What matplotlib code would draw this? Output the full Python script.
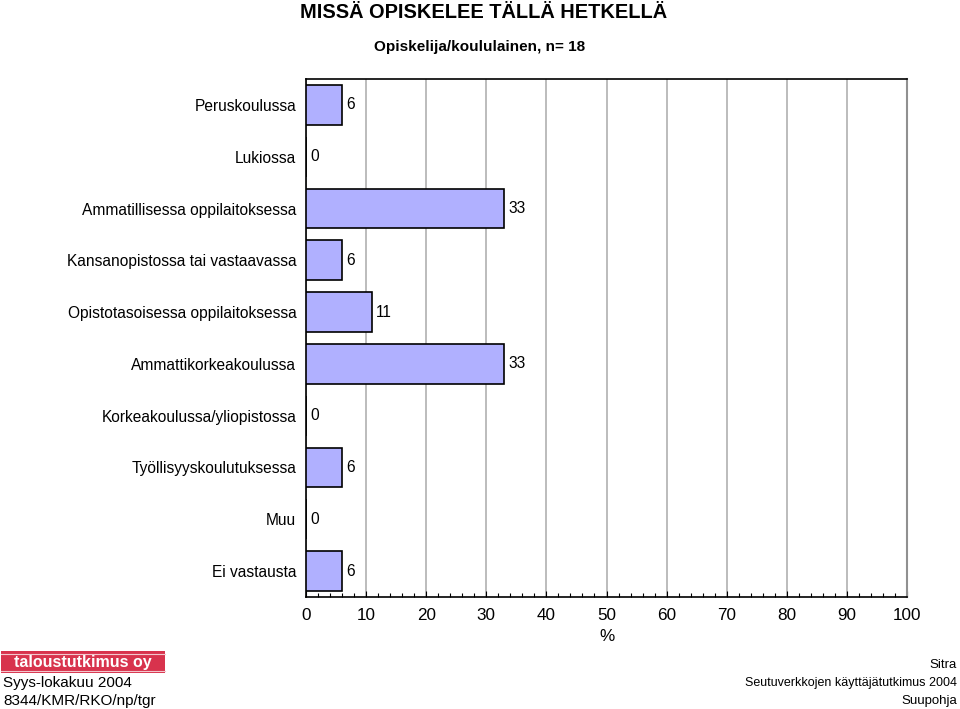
import matplotlib
matplotlib.use("Agg")
import matplotlib.pyplot as plt
from matplotlib.patches import Rectangle
from matplotlib.lines import Line2D
from matplotlib.ticker import MultipleLocator

plt.rcParams['font.family'] = ['Liberation Sans', 'DejaVu Sans']

categories = ["Peruskoulussa", "Lukiossa", "Ammatillisessa oppilaitoksessa",
              "Kansanopistossa tai vastaavassa", "Opistotasoisessa oppilaitoksessa",
              "Ammattikorkeakoulussa", "Korkeakoulussa/yliopistossa",
              "Työllisyyskoulutuksessa", "Muu", "Ei vastausta"]
values = [6, 0, 33, 6, 11, 33, 0, 6, 0, 6]
xticks = [0, 10, 20, 30, 40, 50, 60, 70, 80, 90, 100]

fig = plt.figure(figsize=(9.6, 7.09), dpi=100)
ax = fig.add_axes([306/960, 1-597/709, (907-306)/960, (597-79)/709])

y = list(range(len(categories)))
ax.barh(y, values, height=0.77, color='#B0B0FF', edgecolor='black', linewidth=1.2, zorder=3)
for yi, v in zip(y, values):
    ax.text(v + 0.7, yi, str(v), va='center', ha='left', fontsize=11.2, zorder=4)

ax.set_ylim(len(categories) - 0.5, -0.5)
ax.set_xlim(0, 100)
ax.set_yticks(y)
ax.set_yticklabels(categories, fontsize=11.2)
ax.tick_params(axis='y', length=0, pad=7)
ax.set_xticks(xticks)
ax.set_xticklabels([str(t) for t in xticks], fontsize=12.3)
ax.xaxis.set_minor_locator(MultipleLocator(2))
ax.tick_params(axis='x', which='both', direction='in', length=3, width=0.8, pad=8)
ax.tick_params(axis='x', which='major', length=4)
ax.grid(axis='x', color='#b0b0b0', linewidth=1.2, zorder=0)
ax.set_xlabel('%', fontsize=12.3, labelpad=4)
for s in ['left', 'bottom', 'top']:
    ax.spines[s].set_color('black')
    ax.spines[s].set_linewidth(1.2)
ax.spines['right'].set_color('#909090')
ax.spines['right'].set_linewidth(1.5)

fig.text(484/960, 1-12/709, "MISSÄ OPISKELEE TÄLLÄ HETKELLÄ", ha='center', va='center',
         fontsize=14.4, fontweight='bold')
fig.text(480/960, 1-47/709, "Opiskelija/koululainen, n= 18", ha='center', va='center',
         fontsize=11, fontweight='bold')

# logo
fig.patches.append(Rectangle((1/960, 1-673/709), 164/960, 22/709, transform=fig.transFigure,
                             facecolor='#d8334d', edgecolor='none'))
for yy in (653.5, 670.5):
    fig.lines.append(Line2D([1/960, 165/960], [1-yy/709, 1-yy/709], transform=fig.transFigure,
                            color='#f3c6cd', linewidth=0.8))
fig.text(83/960, 1-662/709, "taloustutkimus oy", ha='center', va='center', color='white',
         fontsize=11.5, fontweight='bold')

fig.text(3/960, 1-683/709, "Syys-lokakuu 2004", ha='left', va='center', fontsize=11)
fig.text(3/960, 1-701/709, "8344/KMR/RKO/np/tgr", ha='left', va='center', fontsize=11)
fig.text(957/960, 1-665/709, "Sitra", ha='right', va='center', fontsize=9.5)
fig.text(957/960, 1-683/709, "Seutuverkkojen käyttäjätutkimus 2004", ha='right', va='center', fontsize=9.0)
fig.text(957/960, 1-701/709, "Suupohja", ha='right', va='center', fontsize=9.5)

fig.savefig("out.png", dpi=100)
